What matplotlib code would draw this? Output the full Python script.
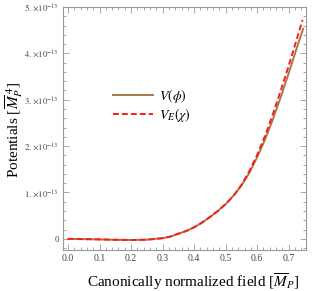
import matplotlib
matplotlib.use("Agg")
import matplotlib.pyplot as plt
from matplotlib.ticker import FixedLocator, MultipleLocator, FuncFormatter

plt.rcParams['mathtext.fontset'] = 'stix'
plt.rcParams['font.family'] = ['Liberation Serif', 'DejaVu Serif']

# Data (potential values in units of 1e-13)
x_phi = [0.0, 0.05, 0.1, 0.15, 0.2, 0.25, 0.3, 0.325, 0.35, 0.375, 0.4, 0.425, 0.45, 0.475,
         0.5, 0.525, 0.55, 0.575, 0.6, 0.625, 0.65, 0.675, 0.7, 0.725, 0.746]
v_phi = [0.0, -0.005, -0.012, -0.02, -0.025, -0.018, 0.015, 0.05, 0.11, 0.17, 0.25, 0.35, 0.47, 0.60,
         0.75, 0.93, 1.15, 1.42, 1.76, 2.14, 2.58, 3.06, 3.57, 4.10, 4.53]
x_chi = [0.0, 0.05, 0.1, 0.15, 0.2, 0.25, 0.3, 0.325, 0.35, 0.375, 0.4, 0.425, 0.45, 0.475,
         0.5, 0.525, 0.55, 0.575, 0.6, 0.625, 0.65, 0.675, 0.7, 0.725, 0.744]
v_chi = [0.0, -0.005, -0.012, -0.02, -0.025, -0.018, 0.015, 0.05, 0.11, 0.17, 0.25, 0.35, 0.47, 0.60,
         0.75, 0.93, 1.16, 1.46, 1.81, 2.22, 2.69, 3.20, 3.73, 4.29, 4.72]
scale = 1e-13
y_ticks = [0, 1, 2, 3, 4, 5]
x_ticks = [0.0, 0.1, 0.2, 0.3, 0.4, 0.5, 0.6, 0.7]

W, H = 313, 291
fig = plt.figure(figsize=(W / 100, H / 100), dpi=100)
ax = fig.add_axes([63/W, 1 - 250/H, (306-63)/W, (250-7)/H])

ax.plot(x_phi, [v * scale for v in v_phi], color='#A57A4A', lw=1.4, label=r'$V(\phi)$',
        solid_joinstyle='round')
ax.plot(x_chi, [v * scale for v in v_chi], color='#FF1A1A', lw=1.4, ls=(0, (3, 1.6)),
        label=r'$V_E(\chi)$')

ax.set_xlim(-0.016, 0.755)
ax.set_ylim(-0.24e-13, 5e-13)

ax.xaxis.set_major_locator(FixedLocator(x_ticks))
ax.xaxis.set_minor_locator(MultipleLocator(0.02))
ax.yaxis.set_major_locator(FixedLocator([t * scale for t in y_ticks]))
ax.yaxis.set_minor_locator(MultipleLocator(0.2e-13))

def yfmt(v, pos):
    n = round(v / scale)
    if n == 0:
        return '0'
    return r'$%d.\!\times\!10^{-13}$' % n
ax.yaxis.set_major_formatter(FuncFormatter(yfmt))
ax.xaxis.set_major_formatter(FuncFormatter(lambda v, p: '%.1f' % v))

gray = '#999999'
for s in ax.spines.values():
    s.set_color(gray)
    s.set_linewidth(0.8)
ax.tick_params(which='both', direction='in', top=True, right=True, color=gray, width=0.6,
               labelcolor='#444444', pad=3)
ax.tick_params(axis='y', labelsize=6.3)
ax.tick_params(axis='x', labelsize=7)
ax.tick_params(which='major', length=4)
ax.tick_params(which='minor', length=2)

fig.text(193/W, 1 - 282/H, r'Canonically normalized field [$\overline{M}_P$]', fontsize=11,
         ha='center', va='center')
fig.text(14/W, 1 - 130/H, r'Potentials [$\overline{M}_P^{\;4}$]', fontsize=11,
         ha='center', va='center', rotation=90)

leg = ax.legend(loc='center left', bbox_to_anchor=(0.155, 0.595), frameon=False, fontsize=10,
                handlelength=2.9, handletextpad=0.4, labelspacing=0.1)

fig.savefig('out.png', dpi=100)
